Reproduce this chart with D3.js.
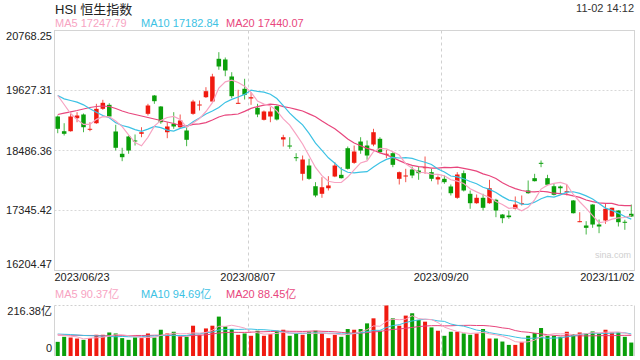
<!DOCTYPE html>
<html><head><meta charset="utf-8">
<script src="https://cdn.jsdelivr.net/npm/d3@7"></script>
<style>
html,body{margin:0;padding:0;background:#fff;}
svg{display:block;font-family:"Liberation Sans",Arial,"Noto Sans CJK SC",sans-serif;}
</style></head><body>
<svg id="c" width="640" height="360"></svg>
<script>
// ---------- data ----------
const title = "HSI 恒生指数";
const stamp = "11-02 14:12";
const xLabels = ["2023/06/23", "2023/08/07", "2023/09/20", "2023/11/02"];
const yTicks = [16204.47, 17345.42, 18486.36, 19627.31, 20768.25];
const volMax = 216.38;
const priceLegend = [["MA5", "17247.79"], ["MA10", "17182.84"], ["MA20", "17440.07"]];
const volLegend = [["MA5", "90.37亿"], ["MA10", "94.69亿"], ["MA20", "88.45亿"]];

const opens = [19133,18853,18853,19100,19171,18886,19005,19279,19355,18848,
18424,18753,18677,18804,19184,19532,19323,18834,18994,18929,
18867,19184,19352,19500,19418,20230,20217,19894,19380,19660,
19475,19298,19070,19133,19329,18696,18581,18359,18043,18201,
17807,17663,17769,17992,18024,18530,18252,18657,18581,18600,
18709,18410,18435,17948,18001,18125,18106,18153,18074,17935,
17948,17802,17587,18055,17663,17484,17587,17484,17549,17269,
17250,17378,17479,17726,17960,18252,17960,17807,17802,17707,
17536,17136,17060,17459,17079,17155,17231,17345,17131,17283];
const highs = [19152,19005,19209,19215,19190,19025,19374,19450,19386,18975,
18538,18772,18791,18929,19374,19542,19332,19025,19215,19171,
18962,19450,19437,19690,19945,20356,20255,19975,19641,19850,
19595,19374,19247,19310,19342,18785,18739,18435,18391,18329,
17884,17979,17998,18264,18169,18562,18581,18739,18677,18899,
18739,18500,18454,18087,18138,18182,18182,18372,18138,18011,
18011,17840,18074,18106,17726,17650,17663,17929,17568,17279,
17345,17612,17631,17916,18043,18296,18024,17853,17821,17834,
17545,17313,17142,17465,17174,17484,17400,17350,17169,17459];
const lows = [18815,18772,18845,19024,18834,18853,18994,19260,19120,18486,
18283,18424,18581,18739,19152,19374,18994,18720,18899,18914,
18568,19165,19247,19485,19405,20021,19899,19481,19374,19456,
19355,19120,19057,19024,19057,18562,18519,18283,17916,17929,
17598,17587,17726,17979,17954,18125,18233,18424,18310,18568,
18435,18340,18169,17840,17884,17960,17929,18043,17902,17840,
17853,17631,17568,17707,17378,17473,17345,17473,17218,17104,
17188,17364,17440,17663,17897,18169,17821,17631,17674,17631,
17288,17123,16889,17016,16914,17092,17225,17041,16978,17225];
const closes = [18899,18804,19133,19152,18929,18899,19279,19393,19133,18538,
18359,18486,18667,18834,19342,19424,19025,18943,18943,19057,
18690,19418,19361,19614,19894,20084,20008,19519,19393,19546,
19500,19171,19228,19228,19076,18739,18572,18353,18315,17948,
17631,17788,17821,18201,17960,18138,18467,18486,18391,18834,
18454,18424,18214,18074,18011,18011,18055,18169,17948,17979,
17884,17674,18030,17726,17484,17587,17397,17769,17345,17199,
17218,17459,17484,17674,17903,18245,17834,17644,17769,17712,
17294,17142,17016,17079,17041,17378,17397,17123,17123,17231];
// volume in 亿
const volumes = [60.6,82.2,79.2,74.9,69.2,76.6,90.9,90.9,100.8,96.5,
76.6,69.2,79.2,76.6,96.5,79.2,112.5,96.5,103.9,83.5,
82.2,129.8,90.9,118.1,129.8,168.8,126.8,115.5,90.9,96.5,
86.6,108.2,86.6,93.9,108.2,112.5,86.6,96.5,90.9,103.9,
108.2,96.5,76.6,90.9,82.2,115.5,112.5,115.5,139.8,161.4,
108.2,216.38,161.4,129.8,173.1,183.1,154.5,147.1,122.5,108.2,
86.6,103.9,103.9,96.5,90.9,96.5,115.5,74.9,74.9,61.9,
47.6,47.6,60.6,86.6,98.2,119.9,86.6,86.6,82.2,103.9,
93.9,100.8,96.5,105.2,96.5,112.5,100.8,100.8,82.2,57.6];
// moving-average values before enough in-window days exist
const ma5Head = [19532,19361,19190,19076];
const ma10Head = [19532,19469,19437,19405,19355,19279,19215,19152,19108];
const ma20Head = [19171,19196,19222,19247,19276,19304,19323,19333,19323,19285,19237,19199,19171,19142,19114,19085,19057,19028,19000];
const volMa5Head = [93,88,85,82];
const volMa10Head = [94,93,92,90,88,87,86,85,84];
const volMa20Head = [90,90,89,89,88,88,88,87,87,87,87,87,88,88,88,89,89,89,90];

// ---------- helpers ----------
function movingAvg(vals, n, head) {
  return vals.map((v, i) => i < n - 1 ? head[i] : d3.mean(vals.slice(i - n + 1, i + 1)));
}
const N = closes.length;
const ma5 = movingAvg(closes, 5, ma5Head);
const ma10 = movingAvg(closes, 10, ma10Head);
const ma20 = movingAvg(closes, 20, ma20Head);
const vma5 = movingAvg(volumes, 5, volMa5Head);
const vma10 = movingAvg(volumes, 10, volMa10Head);
const vma20 = movingAvg(volumes, 20, volMa20Head);

// ---------- layout ----------
const L = 54.5, R = 634.5, T = 30.5, B = 270.5, VT = 305.5, VB = 356;
const RED = "#f01a10", GREEN = "#0a9f0a";
const C5 = "#f7a3c2", C10 = "#3cc2e4", C20 = "#e8467d";
const FRAME = "#d4d4d4";

const svg = d3.select("#c");
const x = d3.scaleBand().domain(d3.range(N)).range([L, R]).paddingInner(0.3).paddingOuter(0.15);
const bw = x.bandwidth();
const cx = i => x(i) + bw / 2;
const y = d3.scaleLinear().domain([yTicks[0], yTicks[yTicks.length - 1]]).range([B, T]);
const yv = d3.scaleLinear().domain([0, volMax]).range([VB, VT]);
const xf = d3.scaleLinear().domain([0, xLabels.length - 1]).range([L, R]);

// ---------- header ----------
svg.append("text").attr("x", 55).attr("y", 14).attr("font-size", 13).attr("fill", "#222")
  .attr("font-family", "'Liberation Sans','Noto Sans CJK SC',sans-serif").text(title);
svg.append("text").attr("x", 634).attr("y", 12).attr("text-anchor", "end").attr("font-size", 11)
  .attr("fill", "#333").text(stamp);

const legX = [55, 141, 226];
const legCol = [C5, C10, C20];
function legend(items, yy) {
  items.forEach((d, k) => {
    svg.append("text").attr("x", legX[k]).attr("y", yy).attr("font-size", 11)
      .attr("fill", legCol[k]).text(d[0] + " " + d[1]);
  });
}
legend(priceLegend, 27);
legend(volLegend, 298);

// ---------- price panel frame / grid ----------
const g = svg.append("g");
g.selectAll("line.hg").data(yTicks.slice(1, -1)).join("line")
  .attr("x1", L).attr("x2", R).attr("y1", d => Math.round(y(d)) + 0.5).attr("y2", d => Math.round(y(d)) + 0.5)
  .attr("stroke", "#d8d8d8").attr("stroke-dasharray", "2,2");
g.selectAll("line.vg").data([1, 2]).join("line")
  .attr("x1", d => Math.round(xf(d)) + 0.5).attr("x2", d => Math.round(xf(d)) + 0.5)
  .attr("y1", T).attr("y2", B).attr("stroke", "#d0d0d0").attr("stroke-dasharray", "3,3");
g.append("rect").attr("x", L).attr("y", T).attr("width", R - L).attr("height", B - T)
  .attr("fill", "none").attr("stroke", FRAME);

// y labels
const yl = svg.append("g").attr("font-size", 11).attr("fill", "#222").attr("text-anchor", "end");
yTicks.forEach((t, k) => {
  let yy = y(t) + 4;
  if (k === yTicks.length - 1) yy = y(t) + 9;
  if (k === 0) yy = y(t) - 3;
  yl.append("text").attr("x", 52).attr("y", yy).text(t.toFixed(2));
});

// x labels
const xl = svg.append("g").attr("font-size", 11).attr("fill", "#222");
xLabels.forEach((s, k) => {
  xl.append("text").attr("x", xf(k)).attr("y", 281)
    .attr("text-anchor", k === 0 ? "start" : (k === xLabels.length - 1 ? "end" : "middle")).text(s);
});

svg.append("text").attr("x", 613).attr("y", 258).attr("font-size", 9).attr("fill", "#cfcfcf")
  .attr("text-anchor", "middle").text("sina.com");

// ---------- candles ----------
const idx = d3.range(N);
const up = i => closes[i] >= opens[i];
const cg = svg.append("g");
cg.selectAll("line.w").data(idx).join("line")
  .attr("x1", cx).attr("x2", cx).attr("y1", i => y(highs[i])).attr("y2", i => y(lows[i]))
  .attr("stroke", i => up(i) ? RED : GREEN).attr("stroke-width", 1).attr("opacity", 0.75);
cg.selectAll("rect.b").data(idx).join("rect")
  .attr("x", i => x(i)).attr("width", bw)
  .attr("y", i => y(Math.max(opens[i], closes[i])))
  .attr("height", i => Math.max(1, Math.abs(y(opens[i]) - y(closes[i]))))
  .attr("fill", i => up(i) ? RED : GREEN);

// MA lines
function drawLine(vals, scale, color, w) {
  svg.append("path").datum(idx)
    .attr("d", d3.line().x(cx).y(i => scale(vals[i])))
    .attr("fill", "none").attr("stroke", color).attr("stroke-width", w);
}
drawLine(ma20, y, C20, 1.2);
drawLine(ma10, y, C10, 1.2);
drawLine(ma5, y, C5, 1.2);

// ---------- volume panel ----------
svg.append("line").attr("x1", L).attr("x2", R).attr("y1", VT).attr("y2", VT)
  .attr("stroke", "#d0d0d0").attr("stroke-dasharray", "2,2");
[L, R].forEach(xx => svg.append("line").attr("x1", xx).attr("x2", xx).attr("y1", VT).attr("y2", VB)
  .attr("stroke", FRAME));
svg.selectAll("line.vv").data([1, 2]).join("line")
  .attr("x1", d => Math.round(xf(d)) + 0.5).attr("x2", d => Math.round(xf(d)) + 0.5)
  .attr("y1", VT).attr("y2", VB).attr("stroke", "#d0d0d0").attr("stroke-dasharray", "3,3");

svg.selectAll("rect.v").data(idx).join("rect")
  .attr("x", i => x(i) + 0.25).attr("width", bw - 0.5)
  .attr("y", i => yv(volumes[i])).attr("height", i => yv(0) - yv(volumes[i]))
  .attr("fill", i => up(i) ? RED : GREEN);

drawLine(vma20, yv, C20, 1);
drawLine(vma10, yv, C10, 1);
drawLine(vma5, yv, C5, 1);

const vl = svg.append("g").attr("font-size", 11).attr("fill", "#222").attr("text-anchor", "end");
vl.append("text").attr("x", 52).attr("y", 315).text(volMax.toFixed(2) + "亿");
vl.append("text").attr("x", 52).attr("y", 352).text("0");
</script>
</body></html>
